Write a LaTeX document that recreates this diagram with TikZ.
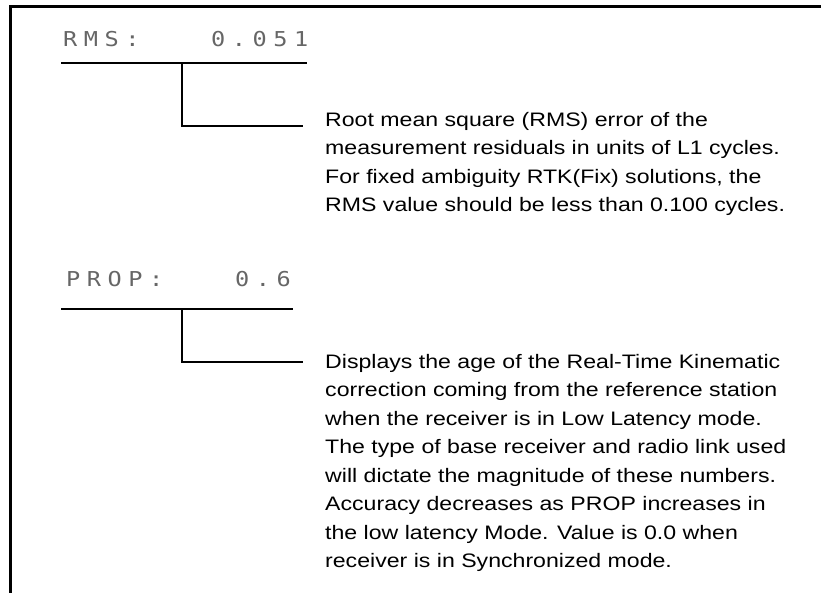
\documentclass[tikz,border=0pt]{standalone}
\usepackage{fontspec}
\setmainfont[FakeStretch=1.185]{Liberation Sans}
\newfontfamily\lcdfont[LetterSpace=32,FakeStretch=1.15]{DejaVu Sans Mono}
\begin{document}
\begin{tikzpicture}[x=1pt,y=-1pt,
  frame/.style={line width=3pt,line cap=rect},
  bar/.style={line width=2pt},
  leader/.style={line width=2pt},
  lcd/.style={inner sep=0pt,anchor=base west,text=black!60,font=\lcdfont\fontsize{20.5}{24}\selectfont},
  desc/.style={inner sep=0pt,anchor=north west,align=left,font=\fontsize{19.5}{28.5}\selectfont}]
\useasboundingbox (0,0) rectangle (821,593);
% frame
\draw[frame] (10.5,600) -- (10.5,6.5) -- (830,6.5);
% RMS block
\node[lcd] (rmslabel) at (63,46.5) {RMS:};
\node[lcd] (rmsval) at (211,46.5) {0.051};
\coordinate (rmsbarL) at (61,63);
\coordinate (rmsbarR) at (307,63);
\coordinate (rmsbend) at (182,126);
\coordinate (rmsend) at (303,126);
\draw[bar] (rmsbarL) -- (rmsbarR);
\node[desc] (rmsdesc) at (325,112) {Root mean square (RMS) error of the\\measurement residuals in units of L1 cycles.\\For fixed ambiguity RTK(Fix) solutions, the\\RMS value should be less than 0.100 cycles.};
\draw[leader] (rmsbend |- rmsbarL) -- (rmsbend) -- (rmsend);
% PROP block
\node[lcd] (proplabel) at (66,287) {PROP:};
\node[lcd] (propval) at (235,287) {0.6};
\coordinate (propbarL) at (61,309);
\coordinate (propbarR) at (293,309);
\coordinate (propbend) at (182,362);
\coordinate (propend) at (303,362);
\draw[bar] (propbarL) -- (propbarR);
\node[desc] (propdesc) at (325,354) {Displays the age of the Real-Time Kinematic\\correction coming from the reference station\\when the receiver is in Low Latency mode.\\The type of base receiver and radio link used\\will dictate the magnitude of these numbers.\\Accuracy decreases as PROP increases in\\the low latency Mode. Value is 0.0 when\\receiver is in Synchronized mode.};
\draw[leader] (propbend |- propbarL) -- (propbend) -- (propend);
\end{tikzpicture}
\end{document}
